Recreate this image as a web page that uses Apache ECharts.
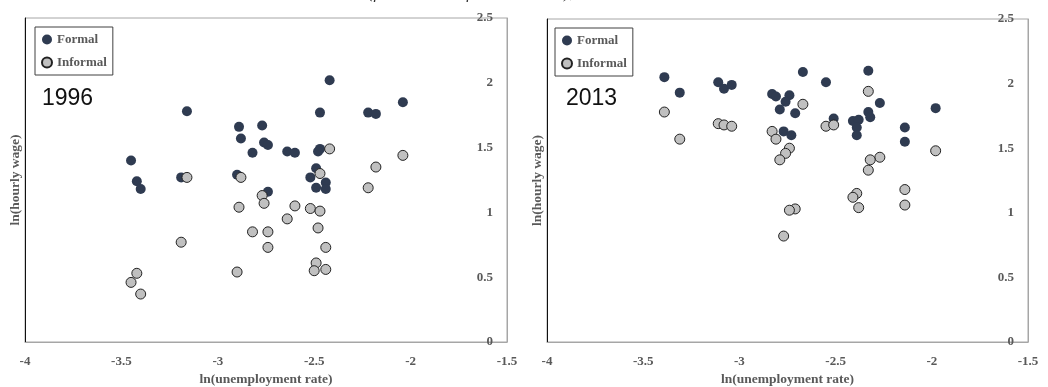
<!DOCTYPE html>
<html><head><meta charset="utf-8">
<script src="https://cdn.jsdelivr.net/npm/echarts@6/dist/echarts.min.js"></script>
<style>html,body{margin:0;padding:0;background:#fff}#c{width:1048px;height:387px}</style>
</head><body><div id="c"></div>
<script>
// Data: [ln(unemployment rate), ln(hourly wage)]
const formal1996 = [[-3.16,1.78],[-3.45,1.40],[-3.42,1.24],[-3.40,1.18],[-3.19,1.27],[-2.89,1.66],[-2.88,1.57],[-2.77,1.67],[-2.76,1.54],[-2.74,1.52],[-2.82,1.46],[-2.64,1.47],[-2.60,1.46],[-2.90,1.29],[-2.74,1.16],[-2.42,2.02],[-2.47,1.77],[-2.04,1.85],[-2.22,1.77],[-2.18,1.76],[-2.47,1.49],[-2.48,1.47],[-2.49,1.34],[-2.52,1.27],[-2.49,1.19],[-2.44,1.23],[-2.44,1.18]];
const informal1996 = [[-3.16,1.27],[-2.88,1.27],[-2.77,1.13],[-2.76,1.07],[-2.89,1.04],[-2.60,1.05],[-2.64,0.95],[-2.82,0.85],[-2.74,0.85],[-2.74,0.73],[-3.19,0.77],[-2.90,0.54],[-3.42,0.53],[-3.45,0.46],[-3.40,0.37],[-2.42,1.49],[-2.04,1.44],[-2.18,1.35],[-2.22,1.19],[-2.47,1.30],[-2.52,1.03],[-2.47,1.01],[-2.48,0.88],[-2.44,0.73],[-2.49,0.61],[-2.50,0.55],[-2.44,0.56]];
const formal2013 = [[-3.39,2.05],[-3.31,1.93],[-3.11,2.01],[-3.08,1.96],[-3.04,1.99],[-2.67,2.09],[-2.83,1.92],[-2.81,1.90],[-2.74,1.91],[-2.76,1.86],[-2.79,1.80],[-2.71,1.77],[-2.77,1.63],[-2.73,1.60],[-2.55,2.01],[-2.33,2.10],[-2.27,1.85],[-1.98,1.81],[-2.51,1.73],[-2.41,1.71],[-2.38,1.72],[-2.39,1.66],[-2.39,1.60],[-2.33,1.78],[-2.32,1.74],[-2.14,1.66],[-2.14,1.55]];
const informal2013 = [[-3.39,1.78],[-3.31,1.57],[-3.11,1.69],[-3.08,1.68],[-3.04,1.67],[-2.67,1.84],[-2.83,1.63],[-2.81,1.57],[-2.74,1.50],[-2.76,1.46],[-2.79,1.41],[-2.71,1.03],[-2.74,1.02],[-2.77,0.82],[-2.33,1.94],[-2.55,1.67],[-2.51,1.68],[-2.27,1.43],[-2.32,1.41],[-2.33,1.33],[-1.98,1.48],[-2.39,1.15],[-2.41,1.12],[-2.38,1.04],[-2.14,1.18],[-2.14,1.06]];
const seriesNames = ['Formal','Informal'];
const yearLabels = ['1996','2013'];
const titleText = '(formal and informal sectors), 1996 and 2013';
const xTitle = 'ln(unemployment rate)';
const yTitle = 'ln(hourly wage)';

const SERIF = 'Liberation Serif, Times New Roman, serif';
const labelStyle = {fontFamily: SERIF, fontWeight: 'bold', fontSize: 13, color: '#595959'};
const FORMAL_COLOR = '#2f3b51';
const grids = [
  {left: 25, right: 541, top: 18, bottom: 45},
  {left: 547, right: 20, top: 19, bottom: 45}
];

function xAx(i){
  return {type:'value', gridIndex:i, min:-4, max:-1.5, interval:0.5, position:'bottom',
    name: xTitle, nameLocation:'middle', nameGap: 30, nameTextStyle: Object.assign({}, labelStyle, {fontSize: 13.5}),
    axisLine:{show:true, onZero:false, lineStyle:{color:'#a6a6a6', width:1}},
    axisTick:{show:false}, splitLine:{show:false},
    axisLabel: Object.assign({margin: 13, showMinLabel:true, showMaxLabel:true}, labelStyle)};
}
function yAxRight(i){
  return {type:'value', gridIndex:i, min:0, max:2.5, interval:0.5, position:'right',
    axisLine:{show:true, onZero:false, lineStyle:{color:'#a6a6a6', width:1}},
    axisTick:{show:false}, splitLine:{show:false},
    axisLabel: Object.assign({inside:true, margin: 14}, labelStyle), z: 1};
}
function yAxLeft(i){
  return {type:'value', gridIndex:i, min:0, max:2.5, interval:0.5, position:'left',
    name: yTitle, nameLocation:'middle', nameGap: 2, nameRotate: 90,
    nameTextStyle: Object.assign({}, labelStyle, {fontSize: 13.5}),
    axisLine:{show:true, onZero:false, lineStyle:{color:'#111', width:1}},
    axisTick:{show:false}, splitLine:{show:false}, axisLabel:{show:false}};
}
function legendAt(left, top){
  return {left:left, top:top, orient:'vertical', data: seriesNames, icon:'circle',
    itemWidth:10, itemHeight:10, itemGap:10, padding:[6,6,6,6],
    borderColor:'#404040', borderWidth:1, backgroundColor:'#fff',
    textStyle: Object.assign({}, labelStyle, {fontSize:13}), selectedMode:false};
}
function scat(name, data, i){
  const isF = name === 'Formal';
  return {type:'scatter', name:name, xAxisIndex:i, yAxisIndex:i*2, data:data, symbolSize:10,
    itemStyle: isF ? {color: FORMAL_COLOR, opacity:1} : {color:'#c0c0c0', borderColor:'#222', borderWidth:1, opacity:1},
    emphasis:{disabled:true}, z: isF ? 3 : 4};
}

const chart = echarts.init(document.getElementById('c'), null, {renderer:'canvas'});
const yearGraphics = [];
[[42, 0],[566, 1]].forEach(([x, i]) => {
  yearGraphics.push({type:'text', x:x, y:87, z:10, style:{text: yearLabels[i], font:'23px Liberation Sans, Arial, sans-serif', fill:'#111', textVerticalAlign:'top'}});
  yearGraphics.push({type:'rect', shape:{x:x-4, y:107, width:62, height:8}, z:11, style:{fill:'#fff'}});
});
chart.setOption({
  animation:false,
  backgroundColor:'#fff',
  title:{text:titleText, left:'center', top:-20, textStyle:{fontFamily:SERIF, fontStyle:'italic', fontWeight:'normal', fontSize:17, color:'#333'}},
  grid: grids.map(g => Object.assign({show:true, borderColor:'#a6a6a6', borderWidth:1, containLabel:false, outerBoundsMode:'none'}, g)),
  xAxis: [xAx(0), xAx(1)],
  yAxis: [yAxRight(0), yAxLeft(0), yAxRight(1), yAxLeft(1)],
  legend: [legendAt(35, 27), legendAt(555, 28)],
  series: [
    scat('Formal', formal1996, 0), scat('Informal', informal1996, 0),
    scat('Formal', formal2013, 1), scat('Informal', informal2013, 1)
  ],
  graphic: yearGraphics
});
</script></body></html>
